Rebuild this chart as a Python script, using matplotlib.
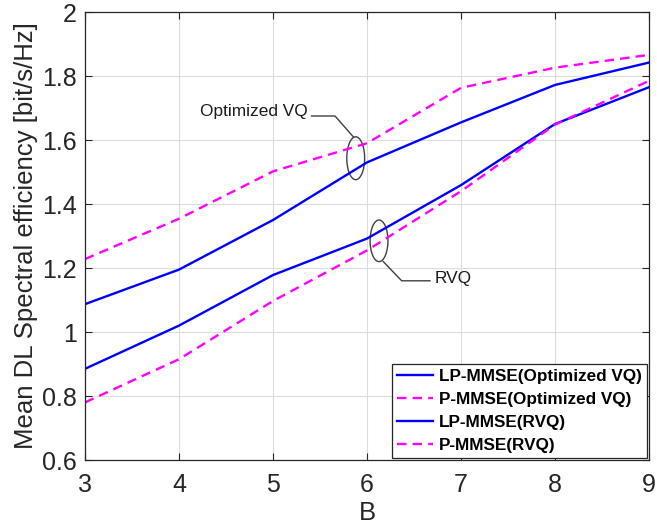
import matplotlib
matplotlib.use("Agg")
import matplotlib.pyplot as plt
from matplotlib.patches import Ellipse

# Data
B = [3, 4, 5, 6, 7, 8, 9]
lp_opt = [1.087, 1.195, 1.35, 1.53, 1.655, 1.772, 1.842]
p_opt = [1.228, 1.354, 1.502, 1.59, 1.763, 1.826, 1.866]
lp_rvq = [0.885, 1.02, 1.178, 1.292, 1.459, 1.65, 1.765]
p_rvq = [0.78, 0.915, 1.097, 1.255, 1.44, 1.648, 1.785]

labels = ["LP-MMSE(Optimized VQ)", "P-MMSE(Optimized VQ)", "LP-MMSE(RVQ)", "P-MMSE(RVQ)"]

plt.rcParams['font.family'] = ['Liberation Sans', 'DejaVu Sans']

fig = plt.figure(figsize=(6.57, 5.31), dpi=100)
ax = fig.add_axes([0.1294, 0.1337, 0.8584, 0.8437])

blue = "#0000ff"
mag = "#ff00ff"
dash = (0, (4, 2.6))

ax.plot(B, lp_opt, color=blue, lw=1.7, label=labels[0])
ax.plot(B, p_opt, color=mag, lw=1.7, linestyle=dash, label=labels[1])
ax.plot(B, lp_rvq, color=blue, lw=1.7, label=labels[2])
ax.plot(B, p_rvq, color=mag, lw=1.7, linestyle=dash, label=labels[3])

ax.set_xlim(3, 9)
ax.set_ylim(0.6, 2)
ax.set_xticks(B)
ax.set_yticks([0.6, 0.8, 1, 1.2, 1.4, 1.6, 1.8, 2])
ax.set_yticklabels(["0.6", "0.8", "1", "1.2", "1.4", "1.6", "1.8", "2"])
ax.grid(True, color="#dcdcdc", lw=0.8)
ax.set_axisbelow(True)

# MATLAB-like box with inward ticks
ax.tick_params(direction="in", top=True, right=True, labelsize=18, length=5,
               color="#262626", labelcolor="#262626", pad=6)
ax.tick_params(axis="x", pad=9)
for s in ax.spines.values():
    s.set_color("#262626")
    s.set_linewidth(0.9)

ax.set_xlabel("B", fontsize=18.5, color="#262626", labelpad=3)
ax.set_ylabel("Mean DL Spectral efficiency [bit/s/Hz]", fontsize=18.5, color="#262626", labelpad=3)

# Ellipse annotations
gray = "#404040"
ax.add_patch(Ellipse((5.88, 1.543), 0.19, 0.134, fill=False, edgecolor=gray, lw=1))
ax.plot([5.41, 5.66, 5.854], [1.675, 1.675, 1.61], color=gray, lw=1)
ax.text(5.37, 1.688, "Optimized VQ", ha="right", va="center", fontsize=12.4, color="#1a1a1a")

ax.add_patch(Ellipse((6.128, 1.285), 0.19, 0.13, fill=False, edgecolor=gray, lw=1))
ax.plot([6.173, 6.369, 6.67], [1.22, 1.16, 1.16], color=gray, lw=1)
ax.text(6.72, 1.168, "RVQ", ha="left", va="center", fontsize=12.4, color="#1a1a1a")

leg = ax.legend(loc="lower right", bbox_to_anchor=(0.997, 0.004), borderaxespad=0,
                prop={"weight": "bold", "size": 12.3}, fancybox=False, framealpha=1,
                edgecolor="#262626", handlelength=2.1, handletextpad=0.35,
                labelspacing=0.47, borderpad=0.3)
leg.get_frame().set_linewidth(0.9)

fig.savefig("out.png", dpi=100)
